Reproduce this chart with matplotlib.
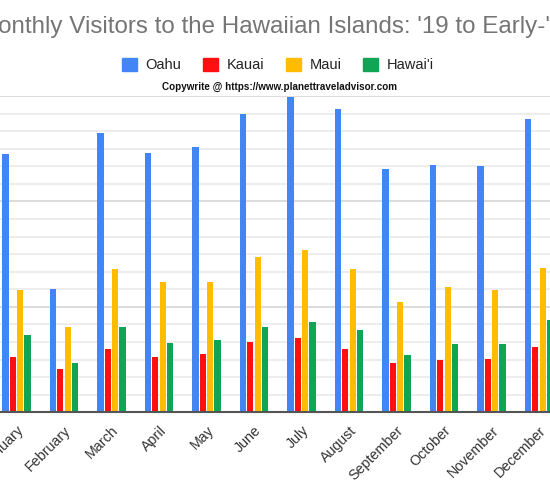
import numpy as np
import matplotlib
matplotlib.use("Agg")
import matplotlib.pyplot as plt
from matplotlib.patches import Rectangle

plt.rcParams['font.family'] = ['Liberation Sans', 'DejaVu Sans']

months = ["January", "February", "March", "April", "May", "June", "July",
          "August", "September", "October", "November", "December"]
islands = ["Oahu", "Kauai", "Maui", "Hawai'i"]
colors = ["#4285F4", "#FF1010", "#FFBC00", "#0FA555"]

# monthly visitors, thousands
oahu = [490, 234, 530, 491, 503, 566, 599, 575, 461, 470, 467, 556]
kauai = [105, 82, 121, 105, 110, 133, 140, 120, 93, 99, 102, 123]
maui = [232, 162, 272, 247, 247, 295, 307, 272, 209, 238, 232, 273]
hawaii = [147, 93, 162, 131, 137, 162, 172, 156, 109, 130, 130, 176]
series = [oahu, kauai, maui, hawaii]

fig = plt.figure(figsize=(5.5, 5), dpi=100)
# the reference is a crop, so the plot area runs past both side edges
ax = fig.add_axes([-7.25 / 550, 87.7 / 500, 570 / 550, 316.3 / 500])

x = np.arange(len(months))
pitch = 0.154
width = 0.128
for i, (vals, c) in enumerate(zip(series, colors)):
    ax.bar(x + (i - 1.5) * pitch, vals, width=width, color=c, linewidth=0, zorder=3)

ax.set_xlim(-0.5, 11.5)
ax.set_ylim(0, 600)
ax.set_yticks(np.arange(0, 601, 200))
ax.set_yticks(np.arange(0, 601, 100 / 3), minor=True)
ax.grid(axis='y', which='minor', color='#e8e8e8', linewidth=1.1, zorder=0)
ax.grid(axis='y', which='major', color='#d6d6d6', linewidth=1.2, zorder=0)
ax.tick_params(axis='y', which='both', length=0, labelleft=False)
ax.tick_params(axis='x', length=0, pad=8)
for s in ['top', 'right', 'left']:
    ax.spines[s].set_visible(False)
ax.spines['bottom'].set_color('#555555')
ax.spines['bottom'].set_linewidth(1.5)
ax.spines['bottom'].set_zorder(4)

ax.set_xticks(x)
ax.set_xticklabels(months, rotation=45, ha='right', va='top',
                   rotation_mode='anchor', fontsize=10.3, color='#333333')

fig.text(278 / 550, 1 - 27 / 500, "Monthly Visitors to the Hawaiian Islands: '19 to Early-'20",
         ha='center', va='center', fontsize=17.4, color='#757575')

handles = [Rectangle((0, 0), 1, 1, color=c) for c in colors]
fig.legend(handles, islands, loc='center', bbox_to_anchor=(278 / 550, 1 - 65 / 500),
           ncol=4, frameon=False, fontsize=10.5, handlelength=1.0, handleheight=1.0,
           handletextpad=0.6, columnspacing=1.5, labelcolor='#222222')

fig.text(280 / 550, 1 - 87 / 500, "Copywrite @ https://www.planettraveladvisor.com",
         ha='center', va='center', fontsize=7.1, fontweight='bold', color='#111111')

fig.savefig("out.png", dpi=100)
